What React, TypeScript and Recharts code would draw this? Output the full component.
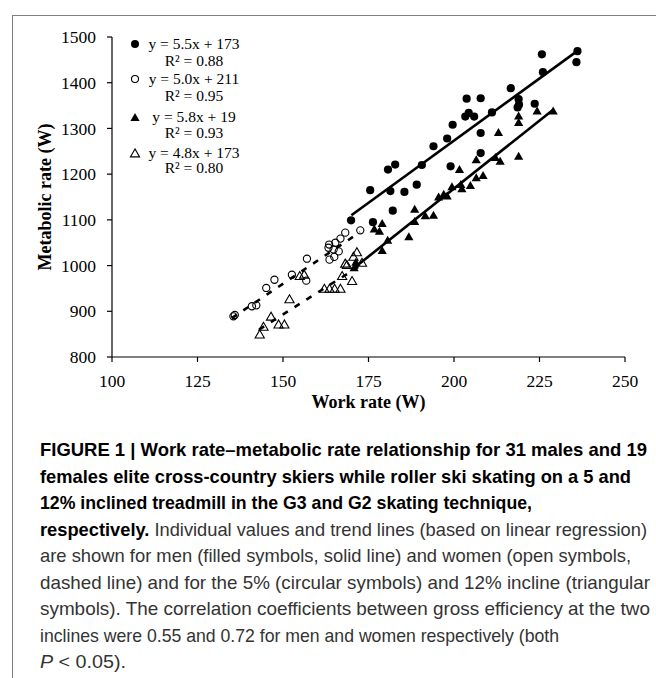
import React from 'react';
import { ScatterChart, Scatter, XAxis, YAxis } from 'recharts';

const xTicks = [100, 125, 150, 175, 200, 225, 250];
const yTicks = [800, 900, 1000, 1100, 1200, 1300, 1400, 1500];

// Men, 5% incline (filled circles)
const menCircles = [
  { x: 169.9, y: 1099 }, { x: 176.3, y: 1095 }, { x: 175.5, y: 1165 }, { x: 180.7, y: 1210 },
  { x: 182.8, y: 1221 }, { x: 181.4, y: 1163 }, { x: 185.5, y: 1161 }, { x: 189.1, y: 1177 },
  { x: 190.6, y: 1220 }, { x: 182.1, y: 1120 }, { x: 199.0, y: 1217 }, { x: 194.0, y: 1261 },
  { x: 198.0, y: 1278 }, { x: 199.6, y: 1308 }, { x: 203.7, y: 1365 }, { x: 207.8, y: 1366 },
  { x: 204.3, y: 1334 }, { x: 203.3, y: 1326 }, { x: 205.9, y: 1326 }, { x: 211.1, y: 1335 },
  { x: 207.8, y: 1290 }, { x: 207.8, y: 1246 }, { x: 216.6, y: 1388 }, { x: 218.9, y: 1364 },
  { x: 219.0, y: 1352 }, { x: 218.6, y: 1346 }, { x: 223.6, y: 1354 }, { x: 225.7, y: 1462 },
  { x: 226.0, y: 1423 }, { x: 236.1, y: 1469 }, { x: 235.8, y: 1445 },
];

// Women, 5% incline (open circles)
const womenCircles = [
  { x: 135.5, y: 889 }, { x: 135.9, y: 892 }, { x: 140.9, y: 911 }, { x: 142.2, y: 913 },
  { x: 145.1, y: 951 }, { x: 147.5, y: 969 }, { x: 152.6, y: 980 }, { x: 157.0, y: 1015 },
  { x: 156.8, y: 967 }, { x: 168.2, y: 1072 }, { x: 166.8, y: 1059 }, { x: 165.3, y: 1050 },
  { x: 163.3, y: 1039 }, { x: 164.8, y: 1035 }, { x: 166.3, y: 1031 }, { x: 163.6, y: 1013 },
  { x: 165.0, y: 1019 }, { x: 172.6, y: 1077 }, { x: 163.5, y: 1046 },
];

// Men, 12% incline (filled triangles)
const menTriangles = [
  { x: 176.7, y: 1080 }, { x: 178.2, y: 1075 }, { x: 179.0, y: 1092 }, { x: 188.5, y: 1123 },
  { x: 191.6, y: 1109 }, { x: 194.0, y: 1110 }, { x: 188.5, y: 1096 }, { x: 186.8, y: 1063 },
  { x: 180.6, y: 1055 }, { x: 179.0, y: 1033 }, { x: 170.8, y: 995 }, { x: 171.3, y: 1007 },
  { x: 197.0, y: 1156 }, { x: 198.0, y: 1152 }, { x: 195.5, y: 1150 }, { x: 199.4, y: 1172 },
  { x: 202.3, y: 1168 }, { x: 202.0, y: 1177 }, { x: 204.8, y: 1175 }, { x: 206.5, y: 1192 },
  { x: 208.5, y: 1197 }, { x: 201.6, y: 1210 }, { x: 206.5, y: 1231 }, { x: 212.1, y: 1236 },
  { x: 213.5, y: 1228 }, { x: 213.0, y: 1291 }, { x: 218.9, y: 1239 }, { x: 218.9, y: 1327 },
  { x: 218.9, y: 1313 }, { x: 224.3, y: 1338 }, { x: 229.0, y: 1338 },
];

// Women, 12% incline (open triangles)
const womenTriangles = [
  { x: 143.2, y: 849 }, { x: 144.3, y: 866 }, { x: 146.5, y: 888 }, { x: 148.7, y: 871 },
  { x: 150.4, y: 871 }, { x: 151.9, y: 926 }, { x: 154.9, y: 977 }, { x: 156.2, y: 980 },
  { x: 162.1, y: 949 }, { x: 163.6, y: 949 }, { x: 165.1, y: 949 }, { x: 166.8, y: 949 },
  { x: 167.3, y: 977 }, { x: 168.7, y: 1001 }, { x: 170.2, y: 966 }, { x: 171.6, y: 1029 },
  { x: 170.6, y: 1019 }, { x: 173.1, y: 1006 }, { x: 168.2, y: 1004 },
];

// Trend line end points
const menCircleTrend = [{ x: 170, y: 1110 }, { x: 236, y: 1469 }];
const menTriangleTrend = [{ x: 170.5, y: 993 }, { x: 229, y: 1341 }];
const womenCircleTrend = [{ x: 135, y: 885 }, { x: 172.5, y: 1073 }];
const womenTriangleTrend = [{ x: 143, y: 860 }, { x: 172, y: 997 }];

const legendEquations = ['y = 5.5x + 173', 'y = 5.0x + 211', 'y = 5.8x + 19', 'y = 4.8x + 173'];
const legendR2 = ['R² = 0.88', 'R² = 0.95', 'R² = 0.93', 'R² = 0.80'];
const legendSymbols = ['filledCircle', 'openCircle', 'filledTriangle', 'openTriangle'];

const xTitle = 'Work rate (W)';
const yTitle = 'Metabolic rate (W)';

const captionBold = [
  'FIGURE 1 | Work rate–metabolic rate relationship for 31 males and 19',
  'females elite cross-country skiers while roller ski skating on a 5 and',
  '12% inclined treadmill in the G3 and G2 skating technique,',
];
const captionLead = 'respectively.';
const captionRest = [
  ' Individual values and trend lines (based on linear regression)',
  'are shown for men (filled symbols, solid line) and women (open symbols,',
  'dashed line) and for the 5% (circular symbols) and 12% incline (triangular',
  'symbols). The correlation coefficients between gross efficiency at the two',
  'inclines were 0.55 and 0.72 for men and women respectively (both',
];
const captionLastItalic = 'P';
const captionLast = ' < 0.05).';
// rendered width of each caption line (px)
const captionWidths = [607, 591, 492, 607, 591, 610, 610, 519, 86];

const SERIF = '"Liberation Serif", "Times New Roman", serif';
const SANS = '"Liberation Sans", Arial, sans-serif';

const FilledCircle = (p: any) => <circle cx={p.cx} cy={p.cy} r={4.1} fill="#000" />;
const OpenCircle = (p: any) => (
  <circle cx={p.cx} cy={p.cy} r={3.6} fill="none" stroke="#000" strokeWidth={1.1} />
);
const triPts = (cx: number, cy: number) =>
  `${cx},${cy - 4.6} ${cx - 4.6},${cy + 3.4} ${cx + 4.6},${cy + 3.4}`;
const FilledTriangle = (p: any) => <polygon points={triPts(p.cx, p.cy)} fill="#000" />;
const OpenTriangle = (p: any) => (
  <polygon points={triPts(p.cx, p.cy)} fill="none" stroke="#000" strokeWidth={1.1} />
);
const NoShape = () => <g />;

const LegendSymbol = ({ kind }: { kind: string }) => {
  const cx = 7, cy = 7;
  if (kind === 'filledCircle') return <svg width={14} height={14}><circle cx={cx} cy={cy} r={4} fill="#000" /></svg>;
  if (kind === 'openCircle') return <svg width={14} height={14}><circle cx={cx} cy={cy} r={3.5} fill="none" stroke="#000" strokeWidth={1.1} /></svg>;
  if (kind === 'filledTriangle') return <svg width={14} height={14}><polygon points={triPts(cx, cy + 0.5)} fill="#000" /></svg>;
  return <svg width={14} height={14}><polygon points={triPts(cx, cy + 0.5)} fill="none" stroke="#000" strokeWidth={1.1} /></svg>;
};

const eqY = [44, 79, 117, 153];
const r2Y = [61, 96, 133, 168];

const CAP_X = 40;
const CAP_BASE = 26; // baseline of first line inside caption svg
const CAP_STEP = 26.5;

export default function App() {
  const regular = captionRest.slice(1);
  return (
    <div style={{ position: 'absolute', left: 0, top: 0, width: 656, height: 678, overflow: 'hidden', background: '#fff' }}>
      {/* frame */}
      <div style={{ position: 'absolute', left: 12, top: 15, width: 700, height: 700, borderLeft: '1.5px solid #808080', borderTop: '1.5px solid #808080' }} />
      <div style={{ position: 'absolute', left: 0, top: 0 }}>
        <ScatterChart width={656} height={420} margin={{ top: 37, right: 31, bottom: 33, left: 0 }}>
          <XAxis
            type="number"
            dataKey="x"
            domain={[100, 250]}
            ticks={xTicks}
            allowDataOverflow
            height={30}
            tickSize={5}
            tickMargin={13}
            stroke="#000"
            axisLine={{ stroke: '#000', strokeWidth: 1.2 }}
            tickLine={{ stroke: '#000', strokeWidth: 1.2 }}
            tick={{ fill: '#000', fontSize: 17.5, fontFamily: SERIF }}
          />
          <YAxis
            type="number"
            dataKey="y"
            domain={[800, 1500]}
            ticks={yTicks}
            allowDataOverflow
            width={112}
            tickSize={5}
            tickMargin={11}
            stroke="#000"
            axisLine={{ stroke: '#000', strokeWidth: 1.2 }}
            tickLine={{ stroke: '#000', strokeWidth: 1.2 }}
            tick={{ fill: '#000', fontSize: 17.5, fontFamily: SERIF }}
          />
          <Scatter data={womenCircles} shape={OpenCircle} isAnimationActive={false} />
          <Scatter data={womenTriangles} shape={OpenTriangle} isAnimationActive={false} />
          <Scatter data={menCircles} shape={FilledCircle} isAnimationActive={false} />
          <Scatter data={menTriangles} shape={FilledTriangle} isAnimationActive={false} />
          <Scatter data={menCircleTrend} shape={NoShape} line={{ stroke: '#000', strokeWidth: 2.6 }} isAnimationActive={false} />
          <Scatter data={menTriangleTrend} shape={NoShape} line={{ stroke: '#000', strokeWidth: 2.6 }} isAnimationActive={false} />
          <Scatter data={womenCircleTrend} shape={NoShape} line={{ stroke: '#000', strokeWidth: 2.6, strokeDasharray: '6 8' }} isAnimationActive={false} />
          <Scatter data={womenTriangleTrend} shape={NoShape} line={{ stroke: '#000', strokeWidth: 2.6, strokeDasharray: '6 8' }} isAnimationActive={false} />
        </ScatterChart>
      </div>
      {/* legend */}
      {legendEquations.map((eq, i) => (
        <React.Fragment key={i}>
          <div style={{ position: 'absolute', left: 128, top: eqY[i] - 7, width: 14, height: 14 }}>
            <LegendSymbol kind={legendSymbols[i]} />
          </div>
          <div style={{ position: 'absolute', left: 143, width: 102, top: eqY[i] - 7, height: 14, lineHeight: '14px', textAlign: 'center', fontFamily: SERIF, fontSize: 15.5, color: '#000', whiteSpace: 'nowrap' }}>{eq}</div>
          <div style={{ position: 'absolute', left: 143, width: 102, top: r2Y[i] - 7, height: 14, lineHeight: '14px', textAlign: 'center', fontFamily: SERIF, fontSize: 15.5, color: '#000', whiteSpace: 'nowrap' }}>{legendR2[i]}</div>
        </React.Fragment>
      ))}
      {/* axis titles */}
      <div style={{ position: 'absolute', left: 112, width: 513, top: 390, height: 24, lineHeight: '24px', textAlign: 'center', fontFamily: SERIF, fontWeight: 'bold', fontSize: 18, color: '#000' }}>{xTitle}</div>
      <div style={{ position: 'absolute', left: 45 - 100, top: 197 - 12, width: 200, height: 24, lineHeight: '24px', textAlign: 'center', fontFamily: SERIF, fontWeight: 'bold', fontSize: 18, color: '#000', transform: 'rotate(-90deg)', whiteSpace: 'nowrap' }}>{yTitle}</div>
      {/* caption */}
      <svg style={{ position: 'absolute', left: 0, top: 430 }} width={656} height={248}>
        <g fontFamily={SANS} fontSize={19}>
          {captionBold.map((t, i) => (
            <text key={i} x={CAP_X} y={CAP_BASE + i * CAP_STEP} fontWeight="bold" fill="#000"
              textLength={captionWidths[i]} lengthAdjust="spacingAndGlyphs">{t}</text>
          ))}
          <text x={CAP_X} y={CAP_BASE + 3 * CAP_STEP} fill="#333" textLength={captionWidths[3]} lengthAdjust="spacingAndGlyphs">
            <tspan fontWeight="bold" fill="#000">{captionLead}</tspan>
            <tspan>{captionRest[0]}</tspan>
          </text>
          {regular.map((t, i) => (
            <text key={i} x={CAP_X} y={CAP_BASE + (4 + i) * CAP_STEP} fill="#333"
              textLength={captionWidths[4 + i]} lengthAdjust="spacingAndGlyphs">{t}</text>
          ))}
          <text x={CAP_X} y={CAP_BASE + 8 * CAP_STEP} fill="#333" textLength={captionWidths[8]} lengthAdjust="spacingAndGlyphs">
            <tspan fontStyle="italic">{captionLastItalic}</tspan>
            <tspan>{captionLast}</tspan>
          </text>
        </g>
      </svg>
    </div>
  );
}
